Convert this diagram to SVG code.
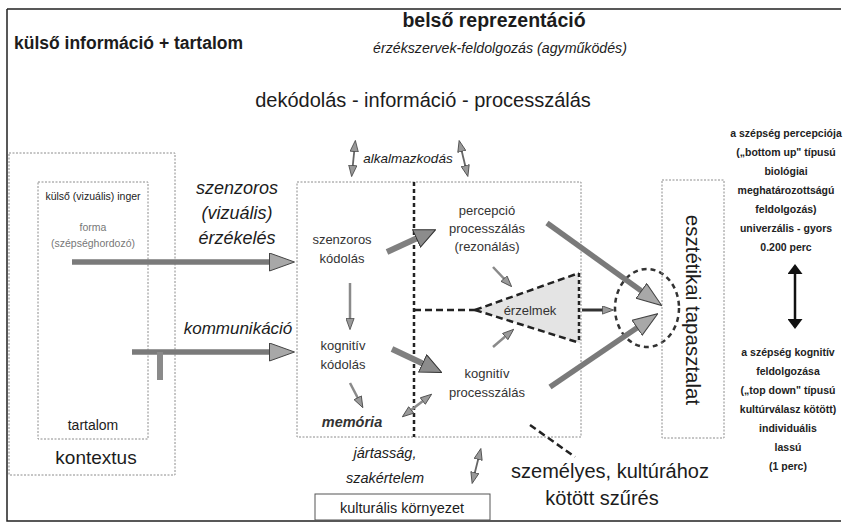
<svg xmlns="http://www.w3.org/2000/svg" width="847" height="526" viewBox="0 0 847 526">
<style>
text{font-family:"Liberation Sans",Arial,sans-serif;fill:#1c1c1c}
.m{text-anchor:middle}
.it{font-style:italic}
.box{fill:none;stroke:#8c8c8c;stroke-width:1;stroke-dasharray:2 1.5}
.dash{fill:none;stroke:#222;stroke-width:2.5;stroke-dasharray:7 4}
.vdash{fill:none;stroke:#222;stroke-width:2.5;stroke-dasharray:4 3}
.c{font-size:13px;text-anchor:middle;fill:#333}
.r{font-size:10.5px;font-weight:bold;text-anchor:middle;fill:#222}
.big{fill:none;stroke:#7a7a7a;stroke-width:5.5}
.thick{fill:none;stroke:#808080;stroke-width:6}
.thin{fill:none;stroke:#8a8a8a;stroke-width:2.5}
.hair{fill:none;stroke:#666;stroke-width:1.8}
</style>
<defs>
<marker id="hb" viewBox="0 0 26 19" markerWidth="26" markerHeight="19" refX="16" refY="9.5" orient="auto-start-reverse" markerUnits="userSpaceOnUse"><path d="M0.5,0.5 L25.5,9.5 L0.5,18.5 Z" fill="#a8a8a8" stroke="#444" stroke-width="1"/></marker>
<marker id="hm" viewBox="0 0 22 20" markerWidth="22" markerHeight="20" refX="14" refY="10" orient="auto-start-reverse" markerUnits="userSpaceOnUse"><path d="M0.5,0.5 L21.5,10 L0.5,19.5 Z" fill="#8c8c8c" stroke="#333" stroke-width="1"/></marker>
<marker id="hs" viewBox="0 0 12 9" markerWidth="12" markerHeight="9" refX="8" refY="4.5" orient="auto-start-reverse" markerUnits="userSpaceOnUse"><path d="M0.4,0.4 L11.6,4.5 L0.4,8.6 Z" fill="#9a9a9a" stroke="#444" stroke-width="0.8"/></marker>
<marker id="hk" viewBox="0 0 10 15" markerWidth="10" markerHeight="15" refX="8" refY="7.5" orient="auto-start-reverse" markerUnits="userSpaceOnUse"><path d="M0,0 L10,7.5 L0,15 Z" fill="#111"/></marker>
</defs>
<rect width="847" height="526" fill="#fff"/>
<g id="frame"><path d="M7,9 H841 M7,9 V521 H841" fill="none" stroke="#222" stroke-width="1.5"/></g>
<g id="titles">
<text x="14" y="49" font-size="17.5" font-weight="bold">külső információ + tartalom</text>
<text x="494" y="27" font-size="19.5" font-weight="bold" class="m">belső reprezentáció</text>
<text x="500" y="53" font-size="14.2" class="m it">érzékszervek-feldolgozás (agyműködés)</text>
<text x="423" y="107" font-size="20" class="m">dekódolás - információ - processzálás</text>
</g>
<g id="node-kontextus">
<rect class="box" x="9" y="153" width="166" height="322"/>
<text x="96" y="464" font-size="19" class="m">kontextus</text>
</g>
<g id="node-inger">
<rect class="box" x="38" y="182" width="110" height="257"/>
<text x="93" y="200" font-size="10.5" class="m">külső (vizuális) inger</text>
<text x="93" y="231" font-size="10.5" class="m" style="fill:#777">forma</text>
<text x="93" y="247" font-size="10.5" class="m" style="fill:#777">(szépséghordozó)</text>
<text x="93" y="430" font-size="14" class="m">tartalom</text>
</g>
<g id="labels-left">
<text x="237" y="194" font-size="18" class="m it">szenzoros</text>
<text x="237" y="219" font-size="18" class="m it">(vizuális)</text>
<text x="237" y="244" font-size="18" class="m it">érzékelés</text>
<text x="238" y="334" font-size="17" class="m it">kommunikáció</text>
</g>
<g id="node-central">
<rect class="box" x="297" y="182" width="284" height="255"/>
<text x="342" y="244" class="c">szenzoros</text>
<text x="342" y="263" class="c">kódolás</text>
<text x="487" y="215" class="c">percepció</text>
<text x="487" y="233" class="c">processzálás</text>
<text x="487" y="251" class="c">(rezonálás)</text>
<text x="343" y="350" class="c">kognitív</text>
<text x="343" y="369" class="c">kódolás</text>
<text x="352" y="427" font-size="14.5" font-weight="bold" class="m it" style="fill:#333">memória</text>
<text x="487" y="378" class="c">kognitív</text>
<text x="487" y="397" class="c">processzálás</text>
</g>
<g id="node-erzelmek">
<path d="M475,310 L579,273 L580,343 Z" fill="#e4e4e4" stroke="none"/>
<path class="dash" d="M475,310 L579,273"/>
<path class="dash" d="M475,310 L580,343"/>
<path class="vdash" d="M579,273 V343"/>
<text x="530" y="315" class="c">érzelmek</text>
</g>
<g id="node-circle"><ellipse cx="647" cy="308" rx="32" ry="39" fill="none" stroke="#333" stroke-width="2.5" stroke-dasharray="5 4"/></g>
<g id="node-esztetikai">
<rect class="box" x="662" y="180" width="62" height="258"/>
<text transform="translate(686,310) rotate(90)" font-size="20.5" class="m">esztétikai tapasztalat</text>
</g>
<g id="label-alkalmazkodas"><text x="408" y="163" font-size="13.5" class="m it">alkalmazkodás</text></g>
<g id="label-jartassag">
<text x="385" y="458" font-size="14.5" class="m it">jártasság,</text>
<text x="385" y="483" font-size="14.5" class="m it">szakértelem</text>
</g>
<g id="node-kulturalis">
<rect x="315" y="494" width="175" height="26" fill="none" stroke="#555" stroke-width="1"/>
<text x="402" y="513" font-size="14.5" class="m">kulturális környezet</text>
</g>
<g id="label-szures">
<text x="610" y="478" font-size="20" class="m">személyes, kultúrához</text>
<text x="602" y="505" font-size="20" class="m">kötött szűrés</text>
</g>
<g id="right-perception">
<text x="786" y="137" class="r">a szépség percepciója</text>
<text x="786" y="156" class="r">(„bottom up" típusú</text>
<text x="786" y="175" class="r">biológiai</text>
<text x="786" y="194" class="r">meghatározottságú</text>
<text x="786" y="213" class="r">feldolgozás)</text>
<text x="786" y="232" class="r">univerzális - gyors</text>
<text x="786" y="251" class="r">0.200 perc</text>
</g>
<g id="right-cognitive">
<text x="788" y="356" class="r">a szépség kognitív</text>
<text x="788" y="375" class="r">feldolgozása</text>
<text x="788" y="394" class="r">(„top down" típusú</text>
<text x="788" y="413" class="r">kultúrválasz kötött)</text>
<text x="788" y="432" class="r">individuális</text>
<text x="788" y="451" class="r">lassú</text>
<text x="788" y="470" class="r">(1 perc)</text>
</g>
<g id="connectors">
<line class="big" x1="72" y1="262" x2="285" y2="262" marker-end="url(#hb)"/>
<line class="big" x1="132" y1="352" x2="285" y2="352" marker-end="url(#hb)"/>
<line x1="160" y1="352" x2="160" y2="380" stroke="#8a8a8a" stroke-width="6"/>
<line class="vdash" x1="414" y1="182" x2="414" y2="437"/>
<line class="dash" x1="414" y1="310" x2="475" y2="310"/>
<line class="dash" x1="530" y1="425" x2="575" y2="457"/>
<line class="thick" x1="387" y1="252" x2="428.8" y2="232.8" marker-end="url(#hm)"/>
<line class="thick" x1="392" y1="349" x2="434.9" y2="369.2" marker-end="url(#hm)"/>
<line class="big" x1="547" y1="223" x2="654" y2="300" stroke="#6a6a6a" marker-end="url(#hb)"/>
<line class="big" x1="550" y1="387" x2="650" y2="319" stroke="#6a6a6a" marker-end="url(#hb)"/>
<line x1="582" y1="310" x2="610" y2="310" stroke="#333" stroke-width="3" marker-end="url(#hs)"/>
<line class="thin" x1="493" y1="267" x2="509.2" y2="284.1" marker-end="url(#hs)"/>
<line class="thin" x1="493" y1="347" x2="511" y2="331.6" marker-end="url(#hs)"/>
<line class="thin" x1="350" y1="283" x2="350" y2="326" marker-end="url(#hs)"/>
<line class="thin" x1="350" y1="383" x2="361.2" y2="404.5" marker-end="url(#hs)"/>
<line class="thin" x1="405.2" y1="414.6" x2="428.8" y2="396.4" marker-start="url(#hs)" marker-end="url(#hs)"/>
<line class="hair" x1="355" y1="144" x2="352" y2="173" marker-start="url(#hs)" marker-end="url(#hs)"/>
<line class="hair" x1="460" y1="144" x2="467" y2="173" marker-start="url(#hs)" marker-end="url(#hs)"/>
<line class="hair" x1="480" y1="452" x2="473" y2="480" marker-start="url(#hs)" marker-end="url(#hs)"/>
<line x1="795" y1="266" x2="795" y2="327" stroke="#111" stroke-width="2.5" marker-start="url(#hk)" marker-end="url(#hk)"/>
</g>
</svg>
